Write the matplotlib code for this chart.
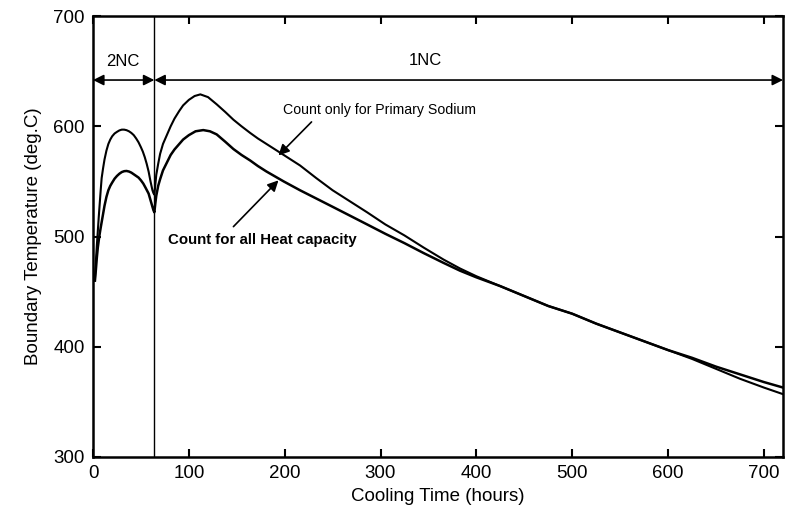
import matplotlib
matplotlib.use("Agg")
import matplotlib.pyplot as plt

plt.rcParams['font.family'] = ['Liberation Sans', 'DejaVu Sans']

# Phase 1 (2NC) and phase 2 (1NC) data
x_primary = [2, 3, 4, 5, 6, 7, 8, 9, 10.5, 12, 14, 16, 18, 20, 22.5, 25, 27.5, 30, 32.5, 35, 37.5,
             40, 42.5, 45, 47.5, 50, 52, 54, 56, 58, 60, 62, 63, 64,
             65, 66, 68, 70, 73, 77, 81, 85, 90, 94, 100, 106, 112, 120, 129, 138, 146.5, 155,
             164, 172, 181, 190, 199, 216, 233, 250, 268, 286, 305, 325, 345, 366, 383, 400, 425,
             450, 475, 500, 525, 550, 575, 600, 625, 650, 675, 700, 720]
y_primary = [462, 478, 492, 505, 518, 530, 542, 553, 562, 570, 578, 584, 588, 591, 593.5, 595, 596.3, 597, 597, 596.5, 595.5,
             594, 592, 589, 585.5, 581, 577, 572, 566, 559, 550, 542, 539.5, 538,
             547, 556, 566, 575, 584, 592, 600, 607, 614, 619, 624, 627.5, 629, 626.5, 620, 613, 606, 600,
             594, 589, 584, 579, 574, 564.5, 553, 542, 532, 522, 511, 501, 490, 479, 471, 464, 455,
             446, 437, 430, 421, 413, 405, 397, 389, 380, 371, 363, 357]

x_all = [2, 3, 4, 5, 6.5, 8, 10, 12, 14, 16, 18, 20, 22.5, 25, 27.5, 30, 32.5, 35, 37.5,
         40, 42.5, 45, 47.5, 50, 52.5, 55, 58, 61, 63, 64,
         65, 66, 68, 70, 73, 77, 81, 85, 90, 94, 100, 107, 115, 122, 129, 138, 146.5, 155,
         164, 172, 181, 190, 199, 216, 233, 250, 268, 286, 305, 325, 345, 366, 383, 400, 425,
         450, 475, 500, 525, 550, 575, 600, 625, 650, 675, 700, 720]
y_all = [460, 470, 481, 490, 500, 508, 518, 528, 536, 542, 546, 549, 552.5, 555, 557, 558.5, 559.3, 559.5, 559,
         558, 556.5, 555, 553.5, 551, 548, 544, 539, 530, 524, 522,
         530, 537, 546, 552, 560, 567, 574, 579, 584, 588, 592, 595.5, 596.6, 595.5, 592.7, 586, 579.4, 574,
         569, 564, 559, 554.5, 550, 542, 534.5, 527, 519, 511, 502.5, 494, 485, 476, 469, 463, 455,
         446, 437, 430, 421, 413, 405, 397, 390, 382, 375, 368, 363]

phase_split = 64
phase_labels = ["2NC", "1NC"]
label_primary = "Count only for Primary Sodium"
label_all = "Count for all Heat capacity"

fig = plt.figure(figsize=(7.85, 5.23), dpi=100)
ax = fig.add_axes([0.1185, 0.1262, 0.879, 0.843])

ax.plot(x_primary, y_primary, color='black', lw=1.5)
ax.plot(x_all, y_all, color='black', lw=1.8)

ax.axvline(phase_split, color='black', lw=1.0)

arrow_y = 642
ax.annotate('', xy=(0, arrow_y), xytext=(phase_split, arrow_y),
            arrowprops=dict(arrowstyle='<|-|>', color='black', lw=1.2,
                            mutation_scale=16, shrinkA=0, shrinkB=0))
ax.annotate('', xy=(phase_split, arrow_y), xytext=(720, arrow_y),
            arrowprops=dict(arrowstyle='<|-|>', color='black', lw=1.2,
                            mutation_scale=16, shrinkA=0, shrinkB=0))
ax.text(31, 659, phase_labels[0], ha='center', va='center', fontsize=12)
ax.text(347, 660, phase_labels[1], ha='center', va='center', fontsize=12)

ax.text(299, 615, label_primary, ha='center', va='center', fontsize=10.2)
ax.annotate('', xy=(193.5, 573.6), xytext=(228, 604),
            arrowprops=dict(arrowstyle='-|>', color='black', lw=1.2,
                            mutation_scale=16, shrinkA=0, shrinkB=0))
ax.text(177, 497, label_all, ha='center', va='center', fontsize=10.8, fontweight='bold')
ax.annotate('', xy=(193.5, 551), xytext=(146.5, 509),
            arrowprops=dict(arrowstyle='-|>', color='black', lw=1.2,
                            mutation_scale=16, shrinkA=0, shrinkB=0))

ax.set_xlim(0, 720)
ax.set_ylim(300, 700)
ax.set_xticks(range(0, 701, 100))
ax.set_yticks(range(300, 701, 100))
ax.tick_params(direction='in', length=6, width=1.5, top=True, right=True,
               labelsize=13.5, pad=6)
for s in ax.spines.values():
    s.set_linewidth(1.8)

ax.set_xlabel("Cooling Time (hours)", fontsize=13.5, labelpad=4)
ax.set_ylabel("Boundary Temperature (deg.C)", fontsize=13.5, labelpad=8)

fig.savefig("out.png", dpi=100)
